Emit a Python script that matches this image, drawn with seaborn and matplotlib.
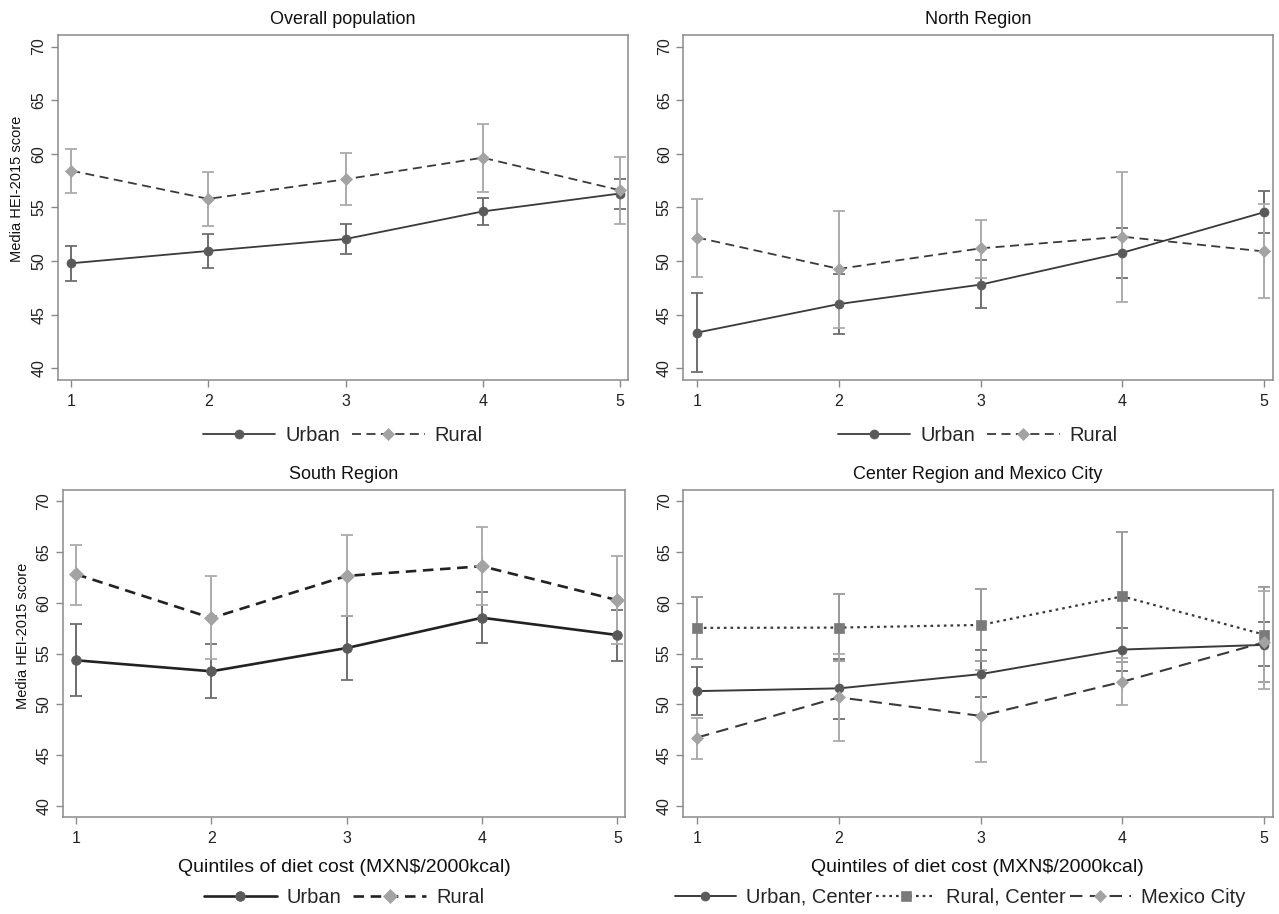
import matplotlib
matplotlib.use("Agg")
import matplotlib.pyplot as plt
import seaborn as sns
import pandas as pd
import numpy as np

# ---------------- data ----------------
quintiles = [1, 2, 3, 4, 5]

# Overall population
ov_urban_mean = [49.8, 50.95, 52.06, 54.63, 56.3]
ov_urban_lo = [48.16, 49.4, 50.64, 53.4, 54.9]
ov_urban_hi = [51.44, 52.5, 53.5, 55.87, 57.7]
ov_rural_mean = [58.43, 55.8, 57.63, 59.64, 56.61]
ov_rural_lo = [56.39, 53.3, 55.22, 56.45, 53.45]
ov_rural_hi = [60.41, 58.28, 60.04, 62.76, 59.67]

# North Region
no_urban_mean = [43.34, 46.0, 47.81, 50.78, 54.56]
no_urban_lo = [39.69, 43.2, 45.6, 48.47, 52.6]
no_urban_hi = [47.06, 48.8, 50.1, 53.09, 56.56]
no_rural_mean = [52.2, 49.28, 51.19, 52.28, 50.9]
no_rural_lo = [48.55, 43.8, 48.47, 46.22, 46.56]
no_rural_hi = [55.8, 54.66, 53.81, 58.34, 55.3]

# South Region
so_urban_mean = [54.33, 53.25, 55.54, 58.52, 56.82]
so_urban_lo = [50.8, 50.63, 52.4, 56.0, 54.3]
so_urban_hi = [57.9, 55.93, 58.65, 61.1, 59.3]
so_rural_mean = [62.8, 58.49, 62.64, 63.59, 60.25]
so_rural_lo = [59.76, 54.43, 58.65, 59.76, 55.95]
so_rural_hi = [65.7, 62.64, 66.63, 67.48, 64.6]

# Center Region and Mexico City
ce_urban_mean = [51.3, 51.57, 52.97, 55.39, 55.85]
ce_urban_lo = [48.92, 48.53, 50.75, 53.3, 53.73]
ce_urban_hi = [53.69, 54.5, 55.36, 57.48, 58.07]
ce_rural_mean = [57.52, 57.55, 57.81, 60.62, 56.86]
ce_rural_lo = [54.44, 54.3, 54.25, 54.15, 52.16]
ce_rural_hi = [60.59, 60.85, 61.37, 66.96, 61.54]
mx_mean = [46.73, 50.69, 48.86, 52.22, 56.1]
mx_lo = [44.6, 46.37, 44.35, 49.9, 51.54]
mx_hi = [48.66, 55.0, 53.37, 54.57, 61.14]

titles = ["Overall population", "North Region", "South Region",
          "Center Region and Mexico City"]
yticks = [40, 45, 50, 55, 60, 65, 70]
ylabel = "Media HEI-2015 score"
xlabel = "Quintiles of diet cost (MXN$/2000kcal)"

# ---------------- style ----------------
sns.set_theme(style="white")
plt.rcParams["font.family"] = ["Liberation Sans", "DejaVu Sans"]

FRAME = "#8a8a8a"
URB_LINE = "#3a3a3a"
URB_MK = "#5a5a5a"
URB_ERR = "#6e6e6e"
RUR_LINE = "#3a3a3a"
RUR_MK = "#a3a3a3"
RUR_ERR = "#ababab"
RC_MK = "#7a7a7a"
RC_ERR = "#999999"

fig = plt.figure(figsize=(12.79, 9.14), dpi=100)
ax_tl = fig.add_axes([0.045, 0.584, 0.446, 0.378])
ax_tr = fig.add_axes([0.534, 0.584, 0.461, 0.378])
ax_bl = fig.add_axes([0.049, 0.106, 0.440, 0.358])
ax_br = fig.add_axes([0.534, 0.106, 0.461, 0.358])


def series(ax, mean, lo, hi, label, lc, mk, mcol, ecol, ls, lw, ms):
    m = np.array(mean)
    yerr = [m - np.array(lo), np.array(hi) - m]
    ax.errorbar(quintiles, mean, yerr=yerr, fmt="none", ecolor=ecol,
                elinewidth=1.4, capsize=4, capthick=1.3, zorder=2)
    df = pd.DataFrame({"q": quintiles, "v": mean})
    sns.lineplot(data=df, x="q", y="v", ax=ax, color=lc, linestyle=ls,
                 linewidth=lw, marker=mk, markersize=ms,
                 markerfacecolor=mcol, markeredgecolor=mcol,
                 markeredgewidth=0.5, label=label, zorder=3)


def style(ax, title, show_ylabel, show_xlabel):
    ax.set_xlim(0.9, 5.06)
    ax.set_ylim(38.9, 71.1)
    ax.set_xticks(quintiles)
    ax.set_yticks(yticks)
    ax.set_xticklabels([str(q) for q in quintiles], fontsize=11.5)
    ax.set_yticklabels([str(t) for t in yticks], fontsize=11.5, rotation=90,
                       va="center")
    ax.tick_params(axis="both", which="major", direction="out", length=5,
                   width=1, color=FRAME, pad=3, labelcolor="#222222",
                   bottom=True, left=True, top=False, right=False)
    ax.tick_params(axis="x", pad=5)
    for s in ax.spines.values():
        s.set_color(FRAME)
        s.set_linewidth(1.1)
    ax.set_title(title, fontsize=13, color="#111111", pad=8)
    ax.set_ylabel(ylabel if show_ylabel else "", fontsize=10.5,
                  color="#111111")
    ax.yaxis.set_label_coords(-0.058, 0.555)
    ax.set_xlabel(xlabel if show_xlabel else "", fontsize=14,
                  color="#111111", labelpad=9)
    ax.grid(False)


# Overall
series(ax_tl, ov_urban_mean, ov_urban_lo, ov_urban_hi, "Urban", URB_LINE, "o",
       URB_MK, URB_ERR, "-", 1.3, 6.5)
series(ax_tl, ov_rural_mean, ov_rural_lo, ov_rural_hi, "Rural", RUR_LINE, "D",
       RUR_MK, RUR_ERR, (0, (5, 3)), 1.3, 6.5)
style(ax_tl, titles[0], True, False)

# North
series(ax_tr, no_urban_mean, no_urban_lo, no_urban_hi, "Urban", URB_LINE, "o",
       URB_MK, URB_ERR, "-", 1.3, 6.5)
series(ax_tr, no_rural_mean, no_rural_lo, no_rural_hi, "Rural", RUR_LINE, "D",
       RUR_MK, RUR_ERR, (0, (5, 3)), 1.3, 6.5)
style(ax_tr, titles[1], False, False)

# South
series(ax_bl, so_urban_mean, so_urban_lo, so_urban_hi, "Urban", "#222222", "o",
       URB_MK, URB_ERR, "-", 1.9, 7)
series(ax_bl, so_rural_mean, so_rural_lo, so_rural_hi, "Rural", "#222222", "D",
       RUR_MK, RUR_ERR, (0, (4, 2.5)), 1.9, 7)
style(ax_bl, titles[2], True, True)

# Center
series(ax_br, ce_urban_mean, ce_urban_lo, ce_urban_hi, "Urban, Center",
       URB_LINE, "o", URB_MK, URB_ERR, "-", 1.4, 6.5)
series(ax_br, ce_rural_mean, ce_rural_lo, ce_rural_hi, "Rural, Center",
       "#3a3a3a", "s", RC_MK, RC_ERR, (0, (1.2, 1.8)), 1.6, 6.5)
series(ax_br, mx_mean, mx_lo, mx_hi, "Mexico City", "#3a3a3a", "D",
       RUR_MK, RUR_ERR, (0, (6, 3.5)), 1.5, 6.5)
style(ax_br, titles[3], False, True)

# Legends
for ax, yoff in [(ax_tl, -0.16), (ax_tr, -0.16)]:
    ax.legend(loc="center", bbox_to_anchor=(0.5, yoff), ncol=2, frameon=False,
              fontsize=14.5, handlelength=3.6, handletextpad=0.5,
              columnspacing=0.6, borderaxespad=0)
ax_bl.legend(loc="center", bbox_to_anchor=(0.5, -0.245), ncol=2,
             frameon=False, fontsize=14.5, handlelength=3.6, handletextpad=0.5,
             columnspacing=0.6, borderaxespad=0)
ax_br.legend(loc="center", bbox_to_anchor=(0.47, -0.245), ncol=3,
             frameon=False, fontsize=14.5, handlelength=3.0, handletextpad=0.5,
             columnspacing=0.2, borderaxespad=0)

fig.savefig("out.png", dpi=100, facecolor="white")
